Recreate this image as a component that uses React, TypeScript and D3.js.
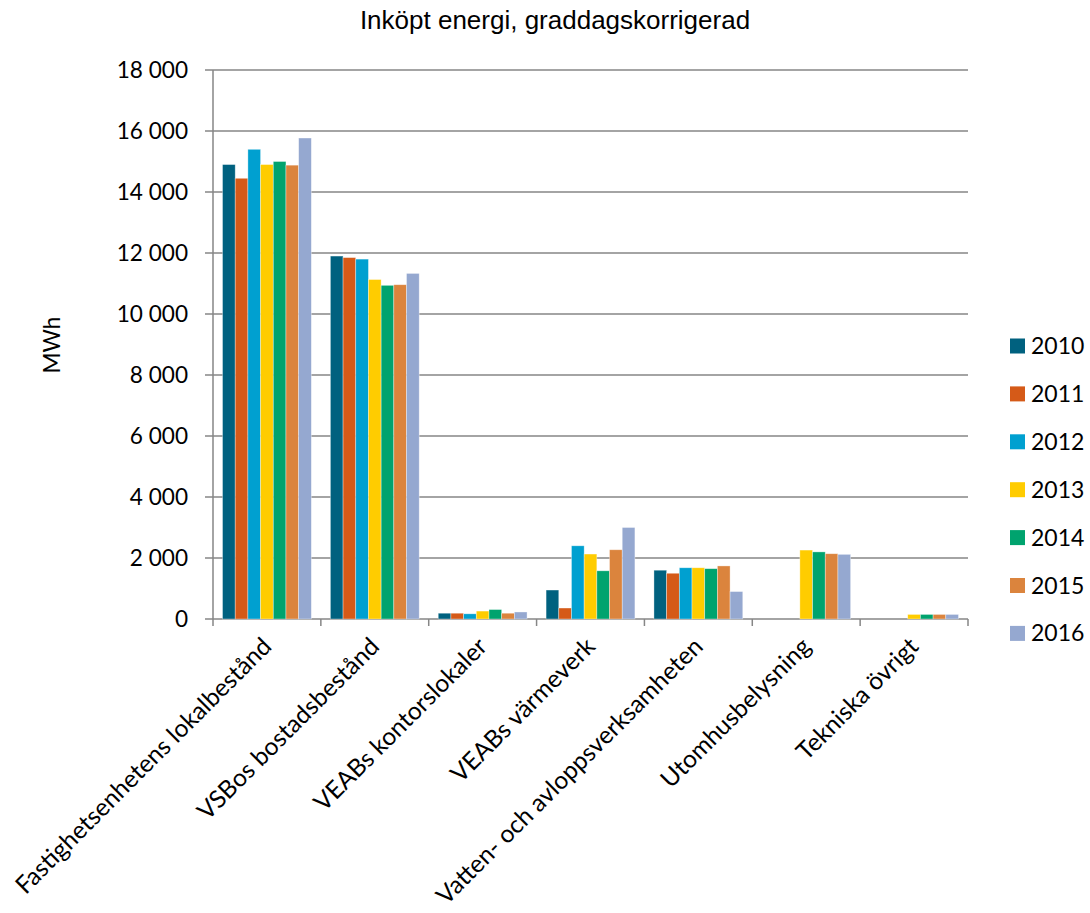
import React from "react";
import * as d3 from "d3";

const categories = [
  "Fastighetsenhetens lokalbestånd",
  "VSBos bostadsbestånd",
  "VEABs kontorslokaler",
  "VEABs värmeverk",
  "Vatten- och avloppsverksamheten",
  "Utomhusbelysning",
  "Tekniska övrigt",
];
const years = ["2010", "2011", "2012", "2013", "2014", "2015", "2016"];
const colors = ["#00617F", "#D55A18", "#00A0D0", "#FFCC00", "#00A36E", "#DB843D", "#95A8D0"];
// values[year][category]
const v2010 = [14900, 11900, 190, 950, 1600, 0, 0];
const v2011 = [14450, 11850, 190, 360, 1500, 0, 0];
const v2012 = [15400, 11800, 170, 2400, 1680, 0, 0];
const v2013 = [14900, 11130, 260, 2130, 1680, 2260, 150];
const v2014 = [15000, 10940, 310, 1580, 1650, 2200, 150];
const v2015 = [14880, 10960, 190, 2270, 1740, 2140, 150];
const v2016 = [15770, 11330, 230, 3000, 900, 2120, 150];
const series = [v2010, v2011, v2012, v2013, v2014, v2015, v2016];
const yTicks = [0, 2000, 4000, 6000, 8000, 10000, 12000, 14000, 16000, 18000];

const fmt = (n: number) => d3.format(",")(n).replace(/,/g, " ");

export default function App() {
  const W = 1090, H = 913;
  const left = 213, right = 968, top = 70, bottom = 619;
  const x0 = d3.scaleBand().domain(categories).range([left, right]).paddingInner(0).paddingOuter(0);
  const bw = x0.bandwidth() / 8.5;
  const y = d3.scaleLinear().domain([0, 18000]).range([bottom, top]);
  const font = "Lato, 'Open Sans', sans-serif";
  const grid = "#868686";
  return (
    <svg width={W} height={H} style={{ position: "absolute", left: 0, top: 0, background: "#fff" }}>
      <text x={555} y={29} textAnchor="middle" fontFamily="'Liberation Sans', Arial, sans-serif" fontSize={26} fill="#000">
        Inköpt energi, graddagskorrigerad
      </text>
      {yTicks.map((t) => (
        <g key={t}>
          <line x1={left - 8} x2={right} y1={y(t)} y2={y(t)} stroke={grid} strokeWidth={1.5} />
          <text x={188} y={y(t)} dy="0.35em" textAnchor="end" fontFamily={font} fontSize={22.6} fill="#000">
            {fmt(t)}
          </text>
        </g>
      ))}
      <line x1={left} x2={left} y1={top} y2={bottom} stroke={grid} strokeWidth={1.5} />
      {d3.range(categories.length + 1).map((i) => {
        const xx = left + i * x0.bandwidth();
        return <line key={i} x1={xx} x2={xx} y1={bottom} y2={bottom + 7} stroke={grid} strokeWidth={1.5} />;
      })}
      {series.map((s, si) =>
        s.map((val, ci) =>
          val > 0 ? (
            <rect
              key={si + "-" + ci}
              x={(x0(categories[ci]) as number) + 0.75 * bw + si * bw}
              y={y(val)}
              width={bw}
              height={bottom - y(val)}
              fill={colors[si]}
              stroke="#fff"
              strokeOpacity={0.5}
              strokeWidth={0.7}
            />
          ) : null
        )
      )}
      {categories.map((c) => {
        const cx = (x0(c) as number) + x0.bandwidth() / 2 + 6;
        const cy = bottom + 29;
        return (
          <text key={c} x={cx} y={cy} transform={`rotate(-45 ${cx} ${cy})`} textAnchor="end" fontFamily={font} fontSize={24.5} fill="#000">
            {c}
          </text>
        );
      })}
      <text x={0} y={0} transform="translate(60 345) rotate(-90)" textAnchor="middle" fontFamily={font} fontSize={22.6} fill="#000">
        MWh
      </text>
      {years.map((yr, i) => {
        const ly = 346 + i * 47.9;
        return (
          <g key={yr}>
            <rect x={1010} y={ly - 7.5} width={15} height={15} fill={colors[i]} />
            <text x={1031} y={ly} dy="0.35em" fontFamily={font} fontSize={23} fill="#000">
              {yr}
            </text>
          </g>
        );
      })}
    </svg>
  );
}
